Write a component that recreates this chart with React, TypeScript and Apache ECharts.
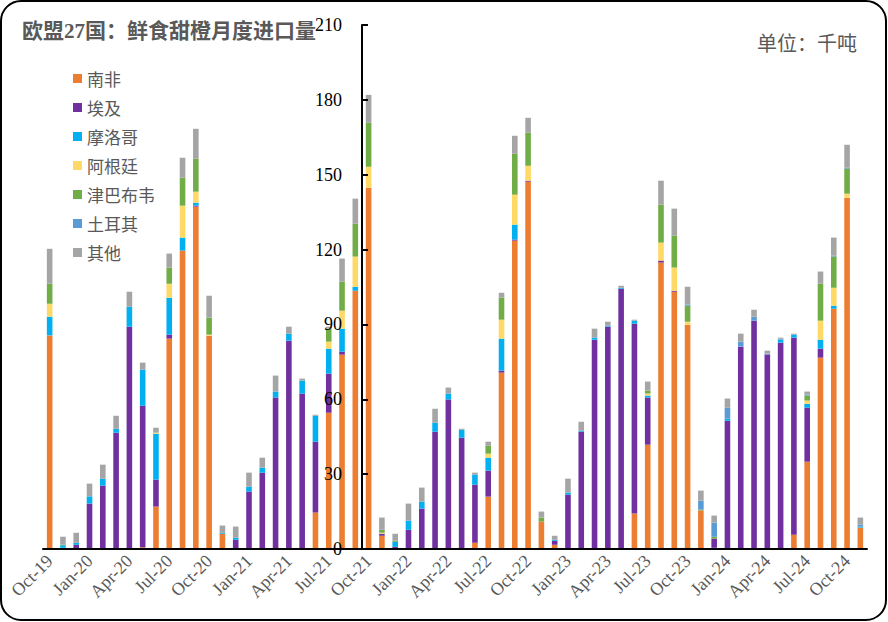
import React, { useEffect, useRef } from "react";
import * as echarts from "echarts";

const categories = [
  "Oct-19", "Nov-19", "Dec-19",
  "Jan-20", "Feb-20", "Mar-20", "Apr-20", "May-20", "Jun-20", "Jul-20", "Aug-20", "Sep-20", "Oct-20", "Nov-20", "Dec-20",
  "Jan-21", "Feb-21", "Mar-21", "Apr-21", "May-21", "Jun-21", "Jul-21", "Aug-21", "Sep-21", "Oct-21", "Nov-21", "Dec-21",
  "Jan-22", "Feb-22", "Mar-22", "Apr-22", "May-22", "Jun-22", "Jul-22", "Aug-22", "Sep-22", "Oct-22", "Nov-22", "Dec-22",
  "Jan-23", "Feb-23", "Mar-23", "Apr-23", "May-23", "Jun-23", "Jul-23", "Aug-23", "Sep-23", "Oct-23", "Nov-23", "Dec-23",
  "Jan-24", "Feb-24", "Mar-24", "Apr-24", "May-24", "Jun-24", "Jul-24", "Aug-24", "Sep-24", "Oct-24", "Nov-24",
];

const southAfrica = [
  85.6, 0.5, 0,
  0, 0, 0, 0, 0.7, 17.0, 84.3, 119.6, 137.2, 85.5, 6.1, 0,
  0, 0, 0, 0, 0, 14.6, 54.6, 77.9, 103.5, 144.8, 5.3, 0,
  0, 0, 0, 0, 0, 2.5, 21.0, 70.7, 123.6, 147.2, 11.0, 1.7,
  0, 0, 0, 0, 0, 14.2, 41.8, 114.8, 103.1, 89.9, 15.4, 0.5,
  0, 0, 0, 0, 0, 5.7, 35.0, 76.7, 96.3, 140.8, 8.6,
];
const egypt = [
  0, 0, 1.7,
  18.2, 25.4, 46.6, 89.1, 56.7, 10.8, 1.6, 0, 0.4, 0, 0, 3.7,
  23.0, 30.6, 60.7, 83.5, 62.3, 28.4, 15.7, 1.2, 0, 0, 0.8, 0.9,
  7.7, 16.2, 47.0, 59.9, 44.6, 23.3, 10.4, 0.8, 0.4, 0.4, 0, 1.6,
  21.8, 47.0, 83.9, 89.1, 104.3, 76.1, 18.9, 0.8, 0.4, 0, 0, 3.6,
  51.4, 81.1, 91.5, 77.9, 82.7, 79.0, 21.6, 3.6, 0, 0, 0,
];
const morocco = [
  7.5, 1.0, 0.8,
  2.9, 2.8, 1.6, 8.0, 14.5, 18.4, 14.8, 5.2, 1.2, 0, 0.4, 0.8,
  2.0, 2.0, 2.4, 2.8, 5.2, 10.4, 10.0, 9.2, 1.6, 0, 0, 2.0,
  3.7, 2.8, 3.6, 2.4, 3.2, 4.0, 5.2, 12.8, 6.0, 0, 0, 0.4,
  0.8, 0.4, 0.8, 0.4, 0.4, 1.2, 0.8, 0, 0, 0, 0, 0,
  0.8, 0, 0, 0, 1.2, 1.2, 1.6, 3.6, 1.2, 0, 0.4,
];
const argentina = [
  5.2, 0, 0,
  0, 0, 0, 0, 0, 0.4, 5.6, 12.8, 4.4, 0.4, 0, 0,
  0, 0, 0, 0, 0, 0, 2.8, 7.2, 12.1, 8.4, 0.4, 0,
  0, 0, 0, 0, 0, 0, 1.6, 7.6, 12.0, 6.0, 0, 0,
  0, 0, 0, 0, 0, 0, 0.8, 7.2, 9.3, 1.2, 0, 0,
  0, 0, 0, 0, 0, 0, 1.3, 7.6, 7.2, 1.6, 0,
];
const zimbabwe = [
  8.0, 0.3, 0,
  0, 0, 0, 0, 0, 0, 6.5, 11.2, 13.2, 6.8, 0, 0,
  0, 0, 0, 0, 0, 0, 5.2, 11.6, 13.2, 17.6, 1.2, 0.4,
  0, 0, 0, 0, 0, 0, 3.2, 8.8, 16.4, 13.2, 1.6, 0,
  0, 0, 0, 0, 0, 0, 1.2, 15.2, 12.8, 6.4, 0.4, 0.8,
  0, 0, 0, 0, 0, 0, 2.0, 14.8, 12.5, 10.0, 0,
];
const turkey = [
  0, 0, 0,
  0, 0, 0, 0, 0, 0, 0, 0, 0, 0, 0, 0,
  0, 0, 0, 0, 0, 0, 0, 0, 0, 0, 0, 0,
  0, 0, 0, 0, 0, 0, 0, 0, 0, 0, 0, 0,
  0, 0, 0, 0, 0, 0, 0, 0, 0, 0.4, 3.6, 5.7,
  4.4, 2.0, 1.6, 0.4, 0.4, 0, 0.4, 0, 0.4, 0.4, 0.8,
];
const others = [
  14.0, 3.1, 4.0,
  5.1, 5.6, 5.2, 6.0, 2.8, 2.0, 5.6, 8.0, 12.0, 8.8, 2.9, 4.5,
  5.6, 4.0, 6.4, 2.8, 0.8, 0.4, 0.8, 9.3, 10.0, 11.2, 4.9, 2.8,
  6.8, 5.6, 5.6, 2.4, 0.4, 0.8, 1.6, 2.0, 7.2, 6.0, 2.4, 1.6,
  5.6, 3.6, 3.6, 1.6, 0.8, 0.4, 3.6, 9.6, 10.8, 7.2, 4.0, 2.8,
  3.7, 3.2, 2.8, 1.2, 0.4, 0.4, 1.2, 4.9, 7.2, 9.2, 2.8,
];

const yTicks = { min: 0, max: 210, interval: 30 };

const seriesDefs = [
  { name: "南非", data: southAfrica, color: "#ED7D31" },
  { name: "埃及", data: egypt, color: "#7030A0" },
  { name: "摩洛哥", data: morocco, color: "#00B0F0" },
  { name: "阿根廷", data: argentina, color: "#FFD966" },
  { name: "津巴布韦", data: zimbabwe, color: "#70AD47" },
  { name: "土耳其", data: turkey, color: "#5B9BD5" },
  { name: "其他", data: others, color: "#A5A5A5" },
];

const SERIF = '"Liberation Serif", "Times New Roman", serif';
const CJK = '"Noto Sans CJK SC", sans-serif';

export default function App() {
  const ref = useRef<HTMLDivElement>(null);

  useEffect(() => {
    if (!ref.current) return;
    const chart = echarts.init(ref.current, undefined, { renderer: "svg" });
    const gridLeft = 43;
    const gridRight = 21;
    const plotWidth = 888 - gridLeft - gridRight;
    const catW = plotWidth / categories.length;
    const yAxisOffset = -(catW * 24);

    chart.setOption({
      animation: false,
      backgroundColor: "#ffffff",
      title: {
        text: "欧盟27国：鲜食甜橙月度进口量",
        left: 22,
        top: 20,
        padding: 0,
        textStyle: {
          fontSize: 21,
          fontWeight: "bold",
          color: "#595959",
          fontFamily: '"Liberation Serif", "Noto Sans CJK SC", serif',
        },
      },
      legend: {
        orient: "vertical",
        left: 73,
        top: 70,
        padding: 0,
        itemWidth: 9,
        itemHeight: 9,
        itemGap: 12,
        icon: "rect",
        textStyle: { fontSize: 17, color: "#595959", fontFamily: CJK, lineHeight: 17 },
        data: seriesDefs.map((s) => s.name),
      },
      grid: { left: gridLeft, right: gridRight, top: 25, bottom: 73 },
      xAxis: {
        type: "category",
        data: categories,
        boundaryGap: true,
        z: 10,
        axisLine: { lineStyle: { color: "#000", width: 2 } },
        axisTick: { inside: true, length: 5, interval: 2, lineStyle: { color: "#000", width: 2 } },
        axisLabel: {
          interval: 2,
          rotate: 45,
          margin: 9,
          fontSize: 18,
          color: "#595959",
          fontFamily: SERIF,
        },
        splitLine: { show: false },
      },
      yAxis: {
        type: "value",
        position: "left",
        offset: yAxisOffset,
        z: 10,
        min: yTicks.min,
        max: yTicks.max,
        interval: yTicks.interval,
        axisLine: { show: true, lineStyle: { color: "#000", width: 2 } },
        axisTick: { show: true, inside: true, length: 6, lineStyle: { color: "#000", width: 2 } },
        axisLabel: { margin: 20, fontSize: 18, color: "#000", fontFamily: SERIF },
        splitLine: { show: false },
      },
      graphic: [
        {
          type: "rect",
          shape: { x: 1, y: 1, width: 885, height: 619, r: 20 },
          style: { fill: "none", stroke: "#000", lineWidth: 2 },
          z: 100,
          silent: true,
        },
        {
          type: "text",
          x: 857,
          y: 42,
          style: {
            text: "单位：千吨",
            textAlign: "right",
            textVerticalAlign: "middle",
            fontSize: 20,
            fill: "#595959",
            fontFamily: CJK,
          },
        },
      ],
      series: seriesDefs.map((s) => ({
        name: s.name,
        type: "bar",
        stack: "total",
        barWidth: 5.6,
        data: s.data,
        itemStyle: { color: s.color },
        emphasis: { disabled: true },
      })),
    });

    return () => chart.dispose();
  }, []);

  return (
    <div
      ref={ref}
      style={{ position: "fixed", left: 0, top: 0, width: 888, height: 622, background: "#fff" }}
    />
  );
}
